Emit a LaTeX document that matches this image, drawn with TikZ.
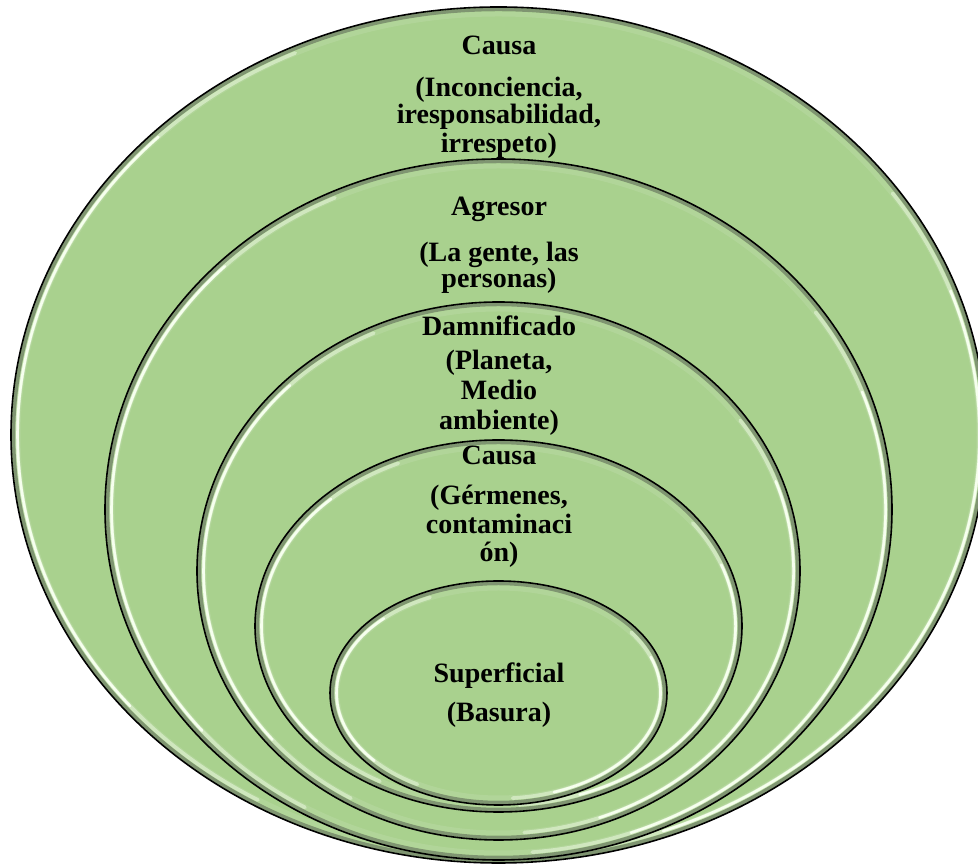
\documentclass[tikz,border=0pt]{standalone}
\usepackage{fontspec}
\setmainfont{Liberation Serif}
\definecolor{leaf}{HTML}{A9D18E}
\definecolor{rimshade}{HTML}{5E645A}
\definecolor{rimlight}{HTML}{F6FFEE}

% One bevelled ellipse: centre (#1,#2), radii #3 and #4
\newcommand\bevelring[4]{%
  \fill[leaf] (#1,#2) ellipse [x radius=#3, y radius=#4];
  \draw[rimshade, line width=3.5pt, opacity=.55]
    (#1,#2) ellipse [x radius={#3-2.5}, y radius={#4-2.5}];
  \draw[leaf!80!white, line width=5pt, opacity=.5]
    (#1,#2) ellipse [x radius={#3-7}, y radius={#4-7}];
  \foreach \sa/\ea/\op/\lw in {115/240/.45/3.6, 135/220/1/2.6, -85/35/.45/3.6, -70/20/1/2.6}{
    \draw[rimlight, line width=\lw pt, opacity=\op, line cap=round]
      ({#1+(#3-6.5)*cos(\sa)},{#2+(#4-6.5)*sin(\sa)})
      arc [start angle=\sa, end angle=\ea, x radius={#3-6.5}, y radius={#4-6.5}];
  }
  \draw[black, line width=1.6pt] (#1,#2) ellipse [x radius=#3, y radius=#4];
}

\begin{document}
\begin{tikzpicture}[x=1pt,y=1pt,
  lbl/.style={anchor=base, inner sep=0pt,
    font=\fontsize{28}{28}\selectfont\bfseries}]
\useasboundingbox (0,0) rectangle (978,864);
\begin{scope}
  \clip (0,0) rectangle (978,864);
  \bevelring{498.5}{429}{487.5}{428}
  \bevelring{498.5}{354.5}{393.5}{350.5}
  \bevelring{498.5}{293}{301.5}{269}
  \bevelring{498.5}{238}{243.5}{186}
  \bevelring{498.5}{171}{168.5}{112}
\end{scope}

% outer ring
\node[lbl] (c1a) at (499,809) {Causa};
\node[lbl] (c1b) at (499,767) {(Inconciencia,};
\node[lbl] (c1c) at (499,740) {iresponsabilidad,};
\node[lbl] (c1d) at (499,711) {irrespeto)};
% second ring
\node[lbl] (c2a) at (499,648) {Agresor};
\node[lbl] (c2b) at (499,602) {(La gente, las};
\node[lbl] (c2c) at (499,576) {personas)};
% third ring
\node[lbl] (c3a) at (499,528) {Damnificado};
\node[lbl] (c3b) at (499,494) {(Planeta,};
\node[lbl] (c3c) at (499,464) {Medio};
\node[lbl] (c3d) at (499,434) {ambiente)};
% fourth ring
\node[lbl] (c4a) at (499,399) {Causa};
\node[lbl] (c4b) at (499,359) {(Gérmenes,};
\node[lbl] (c4c) at (499,330) {contaminaci};
\node[lbl] (c4d) at (499,302) {ón)};
% core
\node[lbl] (c5a) at (499,181) {Superficial};
\node[lbl] (c5b) at (499,142) {(Basura)};
\end{tikzpicture}
\end{document}
